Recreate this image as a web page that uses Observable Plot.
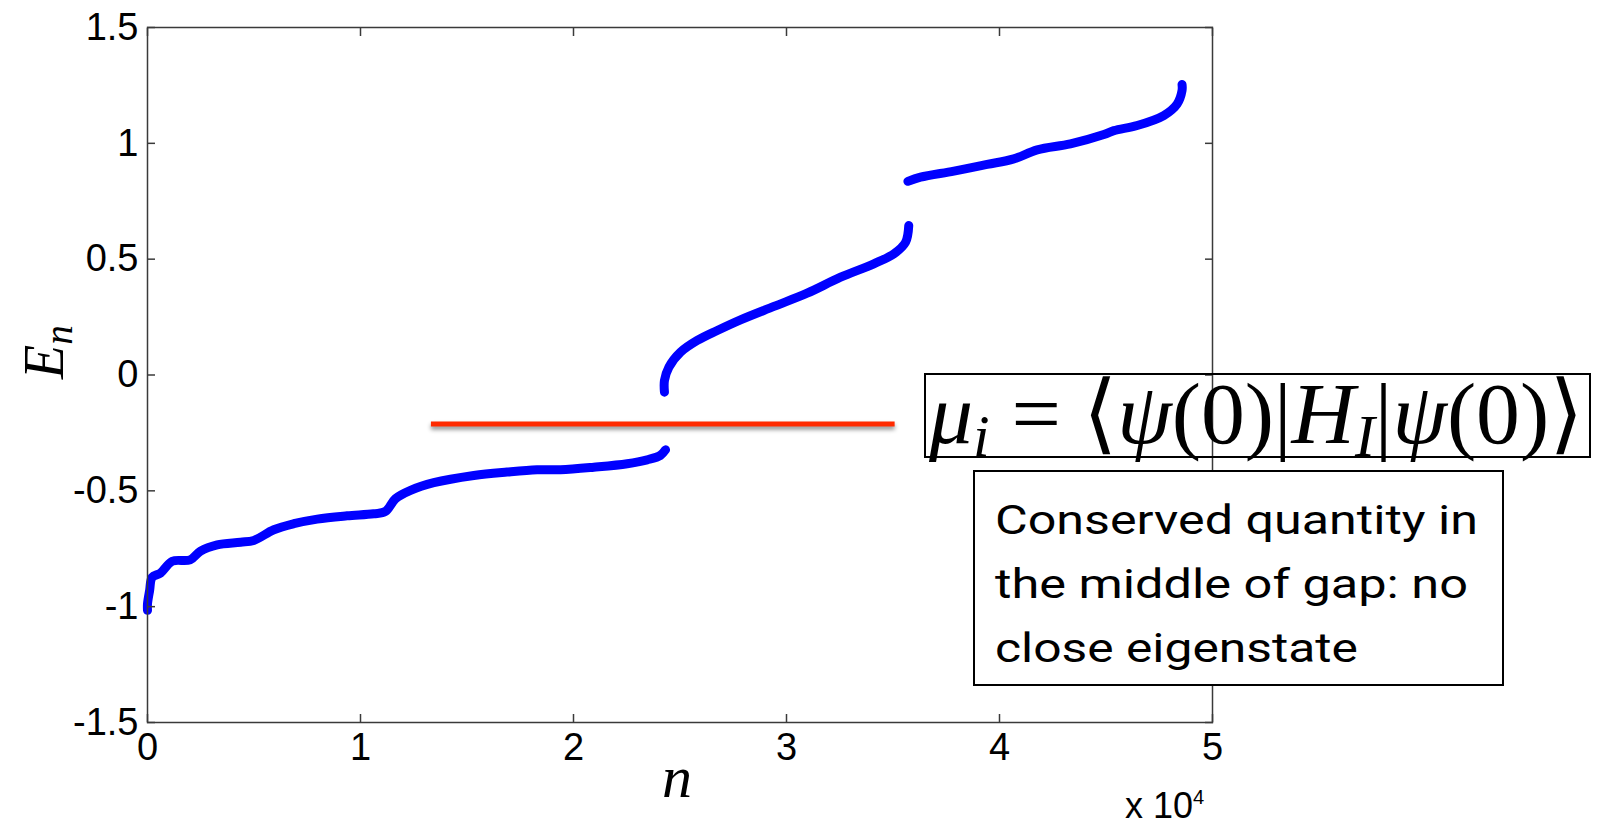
<!DOCTYPE html>
<html>
<head>
<meta charset="utf-8">
<script src="https://cdn.jsdelivr.net/npm/d3@7"></script>
<script src="https://cdn.jsdelivr.net/npm/@observablehq/plot@0.6"></script>
<style>
  html, body { margin: 0; padding: 0; background: #fff; }
  #chart { width: 1603px; height: 825px; overflow: hidden; }
</style>
</head>
<body>
<div id="chart"></div>
<script>
// ---- data ----
// lower band
const band1N = [0, 0, 100, 220, 610, 1160, 2000, 2490, 3270, 4370, 4990, 5930, 6870, 7970, 9370, 10620, 11170, 11640, 12350, 13440, 15320, 16880, 18290, 19390, 20950, 22520, 23460, 24080, 24320];
const band1E = [-1.016, -0.988, -0.93, -0.873, -0.855, -0.804, -0.798, -0.760, -0.733, -0.722, -0.714, -0.668, -0.642, -0.622, -0.608, -0.599, -0.589, -0.534, -0.498, -0.465, -0.434, -0.419, -0.409, -0.409, -0.398, -0.383, -0.366, -0.347, -0.323];
// middle band
const band2N = [24270, 24270, 24480, 25020, 25810, 26750, 27840, 29410, 30970, 32540, 34100, 35040, 35590, 35740];
const band2E = [-0.074, -0.024, 0.034, 0.098, 0.149, 0.192, 0.238, 0.296, 0.353, 0.422, 0.480, 0.523, 0.573, 0.645];
// upper band
const band3N = [35700, 36290, 37860, 39420, 40670, 41770, 43330, 44900, 45370, 46460, 47710, 48340, 48570, 48570];
const band3E = [0.836, 0.854, 0.880, 0.909, 0.933, 0.972, 0.998, 1.038, 1.055, 1.077, 1.120, 1.170, 1.228, 1.254];
// conserved quantity mu_i and the span of its marker line
const muValue = [-0.212];
const muSpan = [13330, 35100];
// axis ticks
const xTicks = [0, 10000, 20000, 30000, 40000, 50000];
const yTicks = [-1.5, -1, -0.5, 0, 0.5, 1, 1.5];
// annotation texts
const noteLines = ["Conserved quantity in", "the middle of gap: no", "close eigenstate"];

const toRows = (ns, es) => ns.map((n, i) => ({n, E: es[i]}));
const band1 = toRows(band1N, band1E);
const band2 = toRows(band2N, band2E);
const band3 = toRows(band3N, band3E);

const W = 1603, H = 825;
const axisColor = "#3a3a3a";
const lineStyle = {x: "n", y: "E", stroke: "#0000ff", strokeWidth: 9, strokeLinecap: "round", strokeLinejoin: "round", curve: "catmull-rom"};

const plot = Plot.plot({
  width: W,
  height: H,
  marginLeft: 147,
  marginRight: W - 1212,
  marginTop: 27,
  marginBottom: H - 722,
  style: {fontFamily: "'Liberation Sans', Arial, sans-serif", background: "#fff", color: "#000"},
  x: {domain: [0, 50000]},
  y: {domain: [-1.5, 1.5]},
  marks: [
    Plot.line(band1, lineStyle),
    Plot.line(band2, lineStyle),
    Plot.line(band3, lineStyle),
    Plot.ruleY(muValue, {x1: muSpan[0], x2: muSpan[1], stroke: "#ff2a00", strokeWidth: 5}),
    Plot.frame({stroke: axisColor, strokeWidth: 1.5}),
    Plot.axisX({ticks: xTicks, tickSize: -8, tickPadding: 19, tickFormat: d => String(d / 1e4), fontSize: 38, stroke: axisColor, strokeWidth: 1.5, fill: "#000", label: null}),
    Plot.axisX({anchor: "top", ticks: xTicks, tickSize: -8, tickFormat: () => "", stroke: axisColor, strokeWidth: 1.5, label: null}),
    Plot.axisY({ticks: yTicks, tickSize: -8, tickPadding: 17, tickFormat: d => String(d), fontSize: 38, stroke: axisColor, strokeWidth: 1.5, fill: "#000", label: null}),
    Plot.axisY({anchor: "right", ticks: yTicks, tickSize: -8, tickFormat: () => "", stroke: axisColor, strokeWidth: 1.5, label: null})
  ]
});

document.getElementById("chart").append(plot);

const svg = d3.select(plot);
svg.selectAll('g[aria-label="rule"]').style("filter", "drop-shadow(0px 3px 2px rgba(0,0,0,0.45))");

const serif = "'Liberation Serif', 'DejaVu Serif', serif";

// y label E_n
const ylab = svg.append("text")
  .attr("transform", "translate(63,352) rotate(-90)")
  .attr("text-anchor", "middle")
  .attr("font-family", serif).attr("font-style", "italic").attr("font-size", 56).attr("fill", "#000");
ylab.append("tspan").text("E");
ylab.append("tspan").attr("font-size", "0.7em").attr("dy", "0.22em").text("n");

// x label n
svg.append("text").attr("x", 677).attr("y", 797).attr("text-anchor", "middle")
  .attr("font-family", serif).attr("font-style", "italic").attr("font-size", 60).attr("fill", "#000").text("n");

// x 10^4
const ex = svg.append("text").attr("x", 1125).attr("y", 818).attr("text-anchor", "start")
  .attr("font-family", "'Liberation Sans', Arial, sans-serif").attr("font-size", 36).attr("fill", "#000");
ex.append("tspan").text("x 10");
ex.append("tspan").attr("font-size", "0.56em").attr("dy", "-0.68em").text("4");

// formula box
svg.append("rect").attr("x", 925).attr("y", 374).attr("width", 665).attr("height", 83)
  .attr("fill", "none").attr("stroke", "#000").attr("stroke-width", 2);
const f = svg.append("text").attr("x", 929).attr("y", 443).attr("text-anchor", "start")
  .attr("font-family", serif).attr("font-size", 60).attr("fill", "#000");
f.append("tspan").attr("font-style", "italic").text("μ");
f.append("tspan").attr("font-style", "italic").attr("font-size", "0.68em").attr("dy", "0.22em").text("i");
f.append("tspan").attr("dy", "-0.15em").text(" = ⟨");
f.append("tspan").attr("font-style", "italic").text("ψ");
f.append("tspan").text("(0)|");
f.append("tspan").attr("font-style", "italic").text("H");
f.append("tspan").attr("font-style", "italic").attr("font-size", "0.68em").attr("dy", "0.22em").text("I");
f.append("tspan").attr("dy", "-0.15em").text("|");
f.append("tspan").attr("font-style", "italic").text("ψ");
f.append("tspan").text("(0)⟩");
const fw = f.node().getBBox().width;
if (fw > 0) f.attr("font-size", 60 * 656 / fw);

// note box
svg.append("rect").attr("x", 974).attr("y", 471).attr("width", 529).attr("height", 214)
  .attr("fill", "#fff").attr("stroke", "#000").attr("stroke-width", 2);
const noteBase = [534, 598, 662];
const noteWidth = [483, 473, 363];
noteLines.forEach((t, i) => {
  svg.append("text").attr("x", 995).attr("y", noteBase[i]).attr("text-anchor", "start")
    .attr("font-family", "Roboto, 'Open Sans', sans-serif").attr("font-size", 41).attr("fill", "#000")
    .attr("textLength", noteWidth[i]).attr("lengthAdjust", "spacingAndGlyphs")
    .text(t);
});
</script>
</body>
</html>
